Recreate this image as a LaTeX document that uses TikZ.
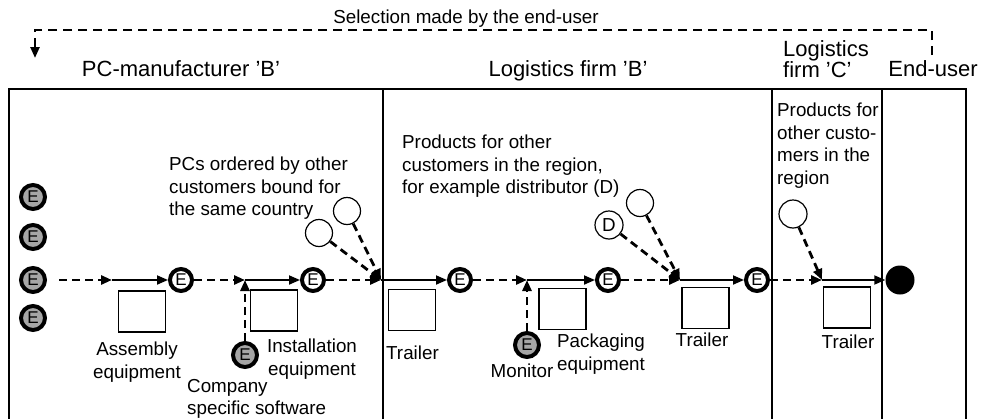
\documentclass[tikz,border=0pt]{standalone}
\usepackage{fontspec}
\setmainfont{Liberation Sans}
\usetikzlibrary{arrows.meta}
\definecolor{extgrey}{RGB}{166,166,166}

\begin{document}
\begin{tikzpicture}[x=1pt,y=-1pt,>={Triangle[length=11pt,width=9pt]},
  every node/.style={inner sep=0pt,font=\fontsize{18.8}{22.5}\selectfont},
  head/.style={font=\fontsize{22}{22}\selectfont},
  evt/.style={circle,draw,line width=4pt,fill=white,minimum size=22pt,font=\fontsize{17}{17}\selectfont},
  ext/.style={evt,fill=extgrey,minimum size=24pt},
  other/.style={circle,draw,line width=1.2pt,minimum size=27pt},
  final/.style={circle,fill=black,minimum size=29pt},
  equip/.style={rectangle,draw,line width=1.2pt,minimum width=47pt,minimum height=41pt},
  flow/.style={->,line width=1.8pt},
  feed/.style={->,line width=2.8pt,dash pattern=on 8pt off 5pt}]

\useasboundingbox (0,0) rectangle (983,418);

\draw[line width=1.8pt] (9,422) |- (966,89) -- (966,422);
\foreach \x in {383,772,882} \draw[line width=1.8pt] (\x,89) -- (\x,422);

\node[head,anchor=base] (hPC)   at (181,76) {PC-manufacturer 'B'};
\node[head,anchor=base] (hLB)   at (568,76) {Logistics firm 'B'};
\node[head,anchor=base west,align=left] (hLC) at (783,77) {Logistics\\[-1pt]firm 'C'};
\node[head,anchor=base] (hEU)   at (933,76) {End-user};
\node[anchor=base] (selTxt) at (466,23) {Selection made by the end-user};

\coordinate (selR) at (932,55);
\coordinate (selTop) at (932,30);
\coordinate (selL) at (35,58);
\draw[->,line width=2.4pt,dash pattern=on 9pt off 6pt] (selR) -- (selTop) -| (selL);

\node[ext]   (src1) at (33,197) {E};
\node[ext]   (src2) at (33,237) {E};
\node[ext]   (src3) at (33,280) {E};
\node[ext]   (src4) at (33,318) {E};
\node[evt]   (e1)   at (181,280) {E};
\node[evt]   (e2)   at (313,280) {E};
\node[ext]   (sw)   at (245,355) {E};
\node[evt]   (e3)   at (460,280) {E};
\node[ext]   (mon)  at (527,345) {E};
\node[evt]   (e4)   at (608,280) {E};
\node[evt]   (e5)   at (757,280) {E};
\node[final] (fin)  at (900,280) {};

\node[other] (o1) at (347,211) {};
\node[other] (o2) at (319,233) {};
\node[other,minimum size=28pt] (dist) at (609,225) {D};
\node[other] (o3) at (640,203) {};
\node[other,minimum size=28pt] (o4) at (793,214) {};

\node[equip] (asm)  at (142,311.5) {};
\node[equip] (inst) at (274,310.5) {};
\node[equip] (trB1) at (412,310) {};
\node[equip] (pack) at (562.5,309) {};
\node[equip] (trB2) at (705.5,308) {};
\node[equip] (trC)  at (847,307.5) {};

\node[anchor=north,align=center] (asmTxt) at (137,342) {Assembly\\equipment};
\node[anchor=north,align=center] (instTxt) at (312,339) {Installation\\equipment};
\node[anchor=north west,align=left] (swTxt) at (187,379) {Company\\specific software};
\node[anchor=base west] (trB1Txt) at (386,359) {Trailer};
\node[anchor=base] (monTxt) at (522,377) {Monitor};
\node[anchor=north,align=center] (packTxt) at (601,334) {Packaging\\equipment};
\node[anchor=base] (trB2Txt) at (702,346) {Trailer};
\node[anchor=base] (trCTxt) at (848,348) {Trailer};
\node[anchor=north west,align=left] (pcsTxt) at (169,157) {PCs ordered by other\\customers bound for\\the same country};
\node[anchor=north west,align=left] (prodB) at (402,135) {Products for other\\customers in the region,\\for example distributor (D)};
\node[anchor=north west,align=left] (prodC) at (777,103) {Products for\\other custo-\\mers in the\\region};

\coordinate (j1) at (112,280);
\coordinate (j2) at (245,280);
\coordinate (j3) at (381,280);
\coordinate (j4) at (527,280);
\coordinate (j5) at (680,280);
\coordinate (j6) at (822,280);

\path[feed] (src3) edge[shorten <=12pt] (j1)
            (e1)   edge (j2)
            (sw)   edge (j2)
            (e2)   edge (j3)
            (o1)   edge (j3)
            (o2)   edge (j3)
            (e3)   edge (j4)
            (mon)  edge (j4)
            (e4)   edge (j5)
            (dist) edge (j5)
            (o3)   edge (j5)
            (e5)   edge (j6)
            (o4)   edge (j6);

\path[flow] (j1) edge (e1)
            (j2) edge (e2)
            (j3) edge (e3)
            (j4) edge (e4)
            (j5) edge (e5)
            (j6) edge (fin);

\end{tikzpicture}
\end{document}
